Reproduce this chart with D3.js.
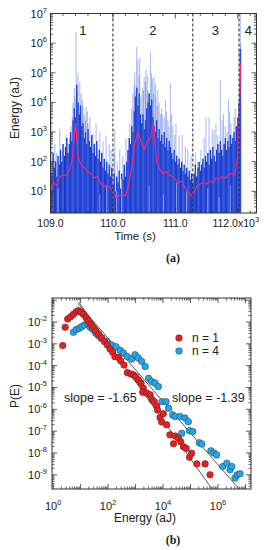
<!DOCTYPE html>
<html>
<head>
<meta charset="utf-8">
<script src="https://cdn.jsdelivr.net/npm/d3@7"></script>
<style>
body { margin: 0; background: #fff; }
svg text { font-family: "Liberation Sans", Arial, sans-serif; fill: #222; }
</style>
</head>
<body>
<div class="chart-wrapper"></div>
<script>
// ---- panel (a): energy vs time ----
const tStart = 109.0;
const tStep = 0.02;
// log10 of the dense (dark) signal, one value per 0.02 s
const darkExp = [
  2.0, 1.6, 2.3, 1.8, 2.0, 1.5, 2.2, 1.9,
  2.4, 2.0, 2.6, 2.2, 2.5, 2.8, 2.3, 2.6,
  3.0, 2.7, 3.4, 3.8, 3.5, 4.6,
  4.0, 3.6, 3.9, 3.2,
  3.3, 2.8, 3.0, 2.6, 3.1, 2.7,
  2.5, 2.9, 2.3, 2.6, 2.2, 2.7, 2.1, 2.4,
  2.0, 2.3, 1.8, 2.1, 1.7, 2.0, 1.6, 1.9, 1.5, 1.8,
  1.2, 1.6, 1.0, 1.5, 1.3, 1.7, 1.1, 1.6, 1.4, 1.9, 1.5, 2.0,
  2.4, 2.8, 2.6, 3.2, 3.0, 3.7,
  4.2, 4.5, 3.9, 4.3, 3.6,
  3.3, 3.6, 3.1, 3.4, 3.8,
  4.0, 4.3, 3.9, 4.1, 3.5,
  3.2, 3.0, 3.4, 2.8, 3.1, 2.7,
  2.9, 2.6, 3.0, 2.5, 2.8, 2.4, 2.7, 2.5,
  2.3, 2.1, 2.4, 2.0, 2.2, 1.9, 2.1, 1.8,
  2.0, 1.7, 1.9, 1.6, 1.8, 1.5, 1.7, 1.4, 1.6, 1.3,
  1.6, 1.9, 1.5, 1.8, 2.0, 1.7, 1.9, 2.1, 1.8, 2.2,
  2.0, 2.3, 1.9, 2.4, 2.1, 2.5, 2.2, 2.0, 2.4, 2.6,
  2.3, 2.7, 2.4, 2.2, 2.6, 2.8, 2.4, 2.7, 2.5, 2.9,
  2.6, 2.8, 3.0, 2.7, 3.2,
  3.5, 4.0, 5.8
];
// isolated events [time (ks), log10 energy]
const spikes = [
  [109.02,3.8],[109.07,2.6],[109.10,2.3],[109.15,3.1],[109.20,2.3],[109.25,2.9],[109.31,2.8],
  [109.33,3.2],[109.35,3.5],[109.36,4.0],[109.38,4.5],[109.39,4.2],[109.41,6.37],[109.43,4.4],
  [109.44,5.0],[109.45,3.9],[109.47,4.7],[109.49,4.3],[109.51,4.1],[109.52,3.9],[109.54,3.6],
  [109.56,3.4],[109.57,3.85],[109.59,3.7],[109.60,3.3],[109.63,3.5],[109.68,2.95],[109.73,3.3],
  [109.79,3.0],[109.84,2.7],[109.89,2.85],[109.94,2.6],[109.97,2.4],
  [110.02,2.3],[110.03,3.1],[110.07,2.0],[110.11,2.4],[110.16,2.2],[110.21,2.8],
  [110.27,3.3],[110.30,3.8],[110.32,4.3],[110.34,4.6],[110.35,5.0],[110.37,4.4],[110.38,5.87],
  [110.40,5.43],[110.42,4.9],[110.43,5.5],[110.45,4.2],[110.47,4.5],[110.49,4.4],[110.50,4.86],
  [110.52,4.7],[110.53,5.1],[110.55,4.9],[110.56,4.4],[110.58,4.3],[110.60,5.7],[110.62,5.0],
  [110.63,4.8],[110.65,4.3],[110.66,4.86],[110.68,4.6],[110.69,4.2],[110.71,3.9],[110.72,4.42],
  [110.74,4.0],[110.76,3.6],[110.78,3.8],[110.79,3.6],[110.82,3.5],[110.84,4.08],[110.86,3.7],
  [110.88,3.4],[110.90,3.2],[110.92,4.66],[110.94,3.6],[110.96,3.2],[110.99,2.9],[111.01,3.3],
  [111.06,2.9],[111.11,2.9],[111.16,2.5],[111.20,2.4],[111.25,2.2],
  [111.32,2.3],[111.36,2.0],[111.41,2.4],[111.46,2.8],[111.49,3.5],[111.54,3.5],[111.59,3.1],
  [111.62,3.07],[111.65,3.3],[111.68,2.9],[111.72,4.76],[111.75,3.4],[111.77,3.6],[111.80,3.2],
  [111.83,3.0],[111.85,4.08],[111.87,3.7],[111.89,3.3],[111.91,2.9],[111.94,3.5],[111.96,3.8],
  [111.97,3.2],[112.00,3.2],[112.04,7.0],[112.05,6.0]
];
// quiet gaps inside the dense signal [time, log10 energy]
const gaps = [
  [109.12,1.1],[109.79,0.9],[109.90,1.2],[110.06,1.0],[110.14,1.4],[110.58,1.2],
  [110.81,0.9],[111.02,1.3],[111.18,1.0],[111.52,1.1],[111.70,0.8],[111.88,1.2]
];
// running average [time, log10 energy]
const average = [
  [109.00,1.0],[109.05,1.3],[109.10,1.2],[109.15,1.5],[109.20,1.55],[109.25,1.55],[109.30,1.7],
  [109.35,2.1],[109.40,3.3],[109.45,2.1],[109.50,1.85],[109.55,1.8],[109.60,1.65],[109.65,1.6],
  [109.70,1.45],[109.75,1.5],[109.80,1.3],[109.85,1.15],[109.90,1.2],[109.95,1.15],[110.00,1.0],
  [110.05,0.8],[110.10,0.85],[110.15,0.9],[110.20,0.85],[110.25,1.2],[110.30,1.8],[110.35,2.6],
  [110.40,3.0],[110.45,2.7],[110.50,2.4],[110.55,2.7],[110.60,2.8],[110.65,3.3],[110.70,2.0],
  [110.75,1.75],[110.80,1.6],[110.85,1.65],[110.90,1.55],[110.95,1.5],[111.00,1.4],[111.05,1.3],
  [111.10,1.35],[111.15,1.15],[111.20,1.0],[111.25,0.85],[111.30,0.95],[111.35,1.2],[111.40,1.25],
  [111.45,1.3],[111.50,1.25],[111.55,1.35],[111.60,1.3],[111.65,1.45],[111.70,1.4],[111.75,1.5],
  [111.80,1.45],[111.85,1.55],[111.90,1.6],[111.95,1.55],[112.00,2.2],[112.025,3.5],[112.045,5.3]
];
const boundaries = [110.0, 111.28, 112.02];
const regionNames = ['1', '2', '3', '4'];
const regionCenters = [109.52, 110.64, 111.64, 112.17];
const timeTicks = [109, 110, 111, 112];
const timeTickLabels = ['109.0', '110.0', '111.0', '112.0x10'];

// ---- panel (b): distributions, [log10 E, log10 P] ----
const n1Points = [
  [0.35,-3.08],[0.44,-2.24],[0.53,-1.86],[0.64,-1.76],[0.74,-1.65],[0.84,-1.53],[0.92,-1.48],
  [1.02,-1.56],[1.10,-1.65],[1.20,-1.80],[1.28,-1.95],[1.37,-2.10],[1.47,-2.26],[1.56,-2.41],
  [1.66,-2.56],[1.77,-2.72],[1.87,-2.90],[1.97,-3.05],[2.07,-3.24],[2.17,-3.39],[2.25,-3.59],
  [2.38,-3.62],[2.46,-3.78],[2.58,-3.97],[2.70,-4.32],[2.83,-4.38],[2.92,-4.42],[3.00,-4.50],
  [3.10,-4.65],[3.20,-4.80],[3.28,-5.03],[3.26,-5.22],[3.41,-5.26],[3.53,-5.34],[3.59,-5.55],
  [3.68,-5.65],[3.77,-5.86],[3.80,-6.03],[3.89,-6.38],[4.01,-6.20],[3.95,-6.58],[4.13,-6.71],
  [4.25,-7.17],[4.44,-7.22],[4.38,-7.58],[4.56,-7.33],[4.64,-7.48],[4.74,-7.71],[4.84,-7.79],
  [4.96,-8.20],[5.04,-8.01],[5.23,-8.50],[5.53,-8.50],[5.71,-9.00]
];
const n4Points = [
  [0.74,-2.47],[0.84,-2.35],[0.95,-2.29],[1.04,-2.21],[1.14,-2.14],[1.25,-2.06],[1.35,-2.24],
  [1.44,-2.34],[1.55,-2.52],[1.65,-2.63],[1.75,-2.75],[1.95,-2.90],[2.13,-3.05],[2.29,-3.13],
  [2.44,-3.30],[2.56,-3.42],[2.70,-3.58],[2.86,-3.70],[2.98,-3.50],[3.10,-3.65],[3.22,-3.80],
  [3.35,-4.04],[3.47,-4.58],[3.59,-4.73],[3.71,-4.80],[3.83,-4.96],[3.96,-5.65],[4.11,-5.65],
  [4.20,-5.95],[4.35,-6.26],[4.44,-6.33],[4.62,-6.33],[4.80,-6.40],[4.92,-6.57],[4.68,-7.10],
  [4.96,-6.98],[5.08,-7.02],[5.32,-7.53],[5.41,-7.59],[5.74,-7.90],[5.85,-8.00],[5.95,-8.09],
  [6.17,-8.62],[6.32,-8.47],[6.44,-8.77],[6.50,-8.62],[6.62,-9.15],[6.70,-9.00],[6.80,-8.95]
];
// fitted power laws, endpoints in log10 units
const fitLines = [
  { name: 'n1', e0: 0.93, p0: -1.08, e1: 5.78, p1: -9.64 },
  { name: 'n4', e0: 0.90, p0: -1.15, e1: 6.76, p1: -9.64 }
];
const slopeLabels = ['slope = -1.65', 'slope = -1.39'];
const legendNames = ['n = 1', 'n = 4'];
const pointColors = ['#ee1c1c', '#1fa9ec'];

const width = 267, height = 550;
const svg = d3.select('.chart-wrapper').append('svg')
  .attr('width', width)
  .attr('height', height);

const pow = v => Math.pow(10, v);

const logMinors = domain => {
  let out = [];
  const lo = Math.floor(Math.log10(domain[0])), hi = Math.ceil(Math.log10(domain[1]));
  for (let d = lo; d <= hi; d++) {
    for (let k = 2; k <= 9; k++) {
      const v = k * pow(d);
      if (v >= domain[0] && v <= domain[1]) out.push(v);
    }
  }
  return out;
};

// box frame with inward ticks on all four sides
const frame = (g, x, y, xMajor, xMinor, yMajor, yMinor) => {
  const [x0, x1] = x.range(), [yb, yt] = y.range();
  let p = '';
  const xt = (vals, len) => vals.forEach(v => {
    const px = x(v);
    p += `M${px},${yb}V${yb - len}M${px},${yt}V${yt + len}`;
  });
  const yt_ = (vals, len) => vals.forEach(v => {
    const py = y(v);
    p += `M${x0},${py}H${x0 + len}M${x1},${py}H${x1 - len}`;
  });
  xt(xMajor, 5); xt(xMinor, 2.5); yt_(yMajor, 5); yt_(yMinor, 2.5);
  g.append('path').attr('d', p).attr('stroke', '#333').attr('stroke-width', 0.8).attr('fill', 'none');
  g.append('rect')
    .attr('x', x0).attr('y', yt)
    .attr('width', x1 - x0).attr('height', yb - yt)
    .attr('fill', 'none').attr('stroke', '#333').attr('stroke-width', 1);
};

const powLabel = (sel, exp) => {
  sel.text('10');
  sel.append('tspan').attr('dy', -5).attr('font-size', 7.5).text(exp);
};

// ================= panel (a) =================
const xTime = d3.scaleLinear().domain([109.0, 112.3]).range([50.5, 256.5]);
const yEnergy = d3.scaleLog().domain([pow(0.27), 1e7]).range([213, 13.5]);

const gA = svg.append('g');
gA.append('clipPath').attr('id', 'clipA').append('rect')
  .attr('x', 50.5).attr('y', 13.5).attr('width', 206).attr('height', 199.5);

const plotA = gA.append('g').attr('clip-path', 'url(#clipA)');
const bottomA = yEnergy.range()[0];
const barW = xTime(tStart + tStep) - xTime(tStart);

plotA.selectAll('.dark').data(darkExp).enter().append('rect')
  .attr('x', (d, i) => xTime(tStart + i * tStep) - barW / 2)
  .attr('width', barW + 0.15)
  .attr('y', d => yEnergy(pow(d)))
  .attr('height', d => bottomA - yEnergy(pow(d)))
  .attr('fill', '#1537cf');

plotA.selectAll('.gap').data(gaps).enter().append('rect')
  .attr('x', d => xTime(d[0]) - 0.4)
  .attr('width', 0.8)
  .attr('y', d => yEnergy(pow(d[1])))
  .attr('height', d => bottomA - yEnergy(pow(d[1])))
  .attr('fill', '#b3c0f0');

plotA.selectAll('.spike').data(spikes).enter().append('rect')
  .attr('x', d => xTime(d[0]) - 0.5)
  .attr('width', 1)
  .attr('y', d => yEnergy(pow(d[1])))
  .attr('height', d => bottomA - yEnergy(pow(d[1])))
  .attr('fill', '#3a5ee0')
  .attr('opacity', 0.45);

plotA.append('path')
  .datum(average)
  .attr('d', d3.line().x(d => xTime(d[0])).y(d => yEnergy(pow(d[1]))))
  .attr('fill', 'none')
  .attr('stroke', '#f2287c')
  .attr('stroke-width', 1.2);

gA.selectAll('.bound').data(boundaries).enter().append('line')
  .attr('x1', d => xTime(d)).attr('x2', d => xTime(d))
  .attr('y1', 13.5).attr('y2', bottomA)
  .attr('stroke', '#222').attr('stroke-width', 1)
  .attr('stroke-dasharray', '3,2');

gA.selectAll('.region').data(regionNames).enter().append('text')
  .attr('x', (d, i) => xTime(regionCenters[i]))
  .attr('y', 35)
  .attr('text-anchor', 'middle')
  .attr('font-size', 13)
  .text(d => d);

frame(gA, xTime, yEnergy,
  timeTicks, d3.range(109, 112.3, 0.2).filter(v => Math.abs(v - Math.round(v)) > 0.01),
  d3.range(1, 8).map(pow), logMinors(yEnergy.domain()));

gA.selectAll('.ylab').data(d3.range(1, 8)).enter().append('text')
  .attr('x', 47)
  .attr('y', d => yEnergy(pow(d)) + 4)
  .attr('text-anchor', 'end')
  .attr('font-size', 11)
  .each(function(d) { powLabel(d3.select(this), d); });

gA.selectAll('.xlab').data(timeTicks).enter().append('text')
  .attr('x', (d, i) => i === 3 ? xTime(d) - 2 : xTime(d))
  .attr('y', 226.5)
  .attr('text-anchor', 'middle')
  .attr('font-size', 10.5)
  .each(function(d, i) {
    const t = d3.select(this).text(timeTickLabels[i]);
    if (i === 3) t.append('tspan').attr('dy', -5).attr('font-size', 7.5).text('3');
  });

gA.append('text').attr('x', 135).attr('y', 240).attr('text-anchor', 'middle')
  .attr('font-size', 11.5).text('Time (s)');
gA.append('text').attr('transform', 'translate(19,108) rotate(-90)')
  .attr('text-anchor', 'middle').attr('font-size', 12).text('Energy (aJ)');
gA.append('text').attr('x', 173).attr('y', 262).attr('text-anchor', 'middle')
  .attr('font-size', 12).attr('font-weight', 'bold')
  .style('font-family', '"Liberation Serif", "DejaVu Serif", serif').text('(a)');

// ================= panel (b) =================
const xE = d3.scaleLog().domain([pow(-0.04), pow(7.2)]).range([52, 251]);
const yP = d3.scaleLog().domain([pow(-9.65), pow(-0.9)]).range([489, 298]);

const gB = svg.append('g');
gB.append('clipPath').attr('id', 'clipB').append('rect')
  .attr('x', 52).attr('y', 298).attr('width', 199).attr('height', 191);
const plotB = gB.append('g').attr('clip-path', 'url(#clipB)');

plotB.selectAll('.fit').data(fitLines).enter().append('line')
  .attr('x1', d => xE(pow(d.e0))).attr('y1', d => yP(pow(d.p0)))
  .attr('x2', d => xE(pow(d.e1))).attr('y2', d => yP(pow(d.p1)))
  .attr('stroke', '#333').attr('stroke-width', 0.8);

[n4Points, n1Points].forEach((pts, k) => {
  plotB.selectAll('.pt' + k).data(pts).enter().append('circle')
    .attr('cx', d => xE(pow(d[0])))
    .attr('cy', d => yP(pow(d[1])))
    .attr('r', 3.3)
    .attr('fill', pointColors[1 - k])
    .attr('stroke', '#333')
    .attr('stroke-width', 0.5);
});

frame(gB, xE, yP,
  d3.range(0, 8).map(pow), logMinors(xE.domain()),
  d3.range(-9, 0).map(pow), logMinors(yP.domain()));

gB.selectAll('.xlab').data([0, 2, 4, 6]).enter().append('text')
  .attr('x', d => xE(pow(d)))
  .attr('y', 510)
  .attr('text-anchor', 'middle')
  .attr('font-size', 11)
  .each(function(d) { powLabel(d3.select(this), d); });

gB.selectAll('.ylab').data(d3.range(-9, -1)).enter().append('text')
  .attr('x', 47)
  .attr('y', d => yP(pow(d)) + 4)
  .attr('text-anchor', 'end')
  .attr('font-size', 11)
  .each(function(d) { powLabel(d3.select(this), d); });

legendNames.forEach((name, i) => {
  gB.append('circle').attr('cx', 179).attr('cy', 338 + i * 13).attr('r', 3.3)
    .attr('fill', pointColors[i]).attr('stroke', '#333').attr('stroke-width', 0.5);
  gB.append('text').attr('x', 192).attr('y', 342 + i * 13).attr('font-size', 12).text(name);
});

gB.append('text').attr('x', 64).attr('y', 402).attr('font-size', 12.5).text(slopeLabels[0]);
gB.append('text').attr('x', 172).attr('y', 402).attr('font-size', 12.5).text(slopeLabels[1]);

gB.append('text').attr('x', 145).attr('y', 522).attr('text-anchor', 'middle')
  .attr('font-size', 12).text('Energy (aJ)');
gB.append('text').attr('transform', 'translate(19,396) rotate(-90)')
  .attr('text-anchor', 'middle').attr('font-size', 12).text('P(E)');
gB.append('text').attr('x', 173).attr('y', 544).attr('text-anchor', 'middle')
  .attr('font-size', 12).attr('font-weight', 'bold')
  .style('font-family', '"Liberation Serif", "DejaVu Serif", serif').text('(b)');
</script>
</body>
</html>
